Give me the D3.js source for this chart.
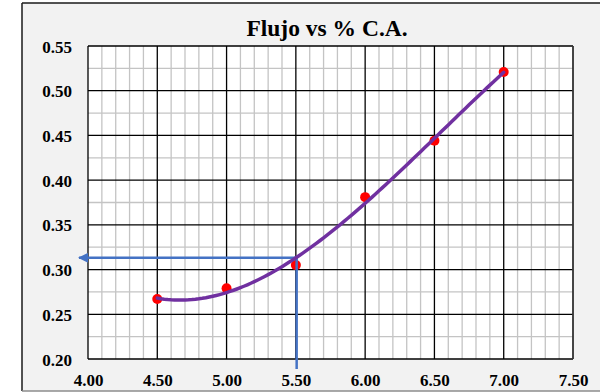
<!DOCTYPE html>
<html>
<head>
<meta charset="utf-8">
<script src="https://cdn.jsdelivr.net/npm/d3@7"></script>
<style>
  html, body { margin: 0; padding: 0; background: #ffffff; }
  svg { display: block; }
</style>
</head>
<body>
<svg id="chart" width="600" height="392"></svg>
<script>
// Measured flow for each % C.A.
const caPercent = [4.5, 5.0, 5.5, 6.0, 6.5, 7.0];
const flujo = [0.267, 0.279, 0.305, 0.381, 0.444, 0.521];

// Axis ticks
const xTicks = [4.0, 4.5, 5.0, 5.5, 6.0, 6.5, 7.0, 7.5];
const yTicks = [0.20, 0.25, 0.30, 0.35, 0.40, 0.45, 0.50, 0.55];

// Value
const readX = 5.5;

const title = "Flujo vs % C.A.";

const svg = d3.select("#chart");
const W = 600, H = 392;
const plot = { left: 88, top: 46, right: 573, bottom: 359 };

const x = d3.scaleLinear().domain([4.0, 7.5]).range([plot.left, plot.right]);
const y = d3.scaleLinear().domain([0.20, 0.55]).range([plot.bottom, plot.top]);

// Cubic least-squares trend line through the measurements
function polyFit(xs, ys, order) {
  const n = order + 1;
  const A = Array.from({ length: n }, () => new Array(n + 1).fill(0));
  xs.forEach((xv, k) => {
    for (let i = 0; i < n; i++) {
      for (let j = 0; j < n; j++) A[i][j] += Math.pow(xv, i + j);
      A[i][n] += ys[k] * Math.pow(xv, i);
    }
  });
  for (let c = 0; c < n; c++) {
    let p = c;
    for (let r = c + 1; r < n; r++) if (Math.abs(A[r][c]) > Math.abs(A[p][c])) p = r;
    [A[c], A[p]] = [A[p], A[c]];
    for (let r = 0; r < n; r++) {
      if (r === c) continue;
      const f = A[r][c] / A[c][c];
      for (let k = c; k <= n; k++) A[r][k] -= f * A[c][k];
    }
  }
  return A.map((row, i) => row[n] / row[i]);
}
const coef = polyFit(caPercent, flujo, 3);
const trend = xv => coef.reduce((s, c, i) => s + c * Math.pow(xv, i), 0);
const readY = trend(readX);

// Chart frame
svg.append("rect").attr("x", 0).attr("y", 0).attr("width", W).attr("height", H).attr("fill", "#ffffff");
svg.append("rect").attr("x", 22).attr("y", 3).attr("width", W).attr("height", 388)
  .attr("fill", "#F2F2F2");
svg.append("line").attr("x1", 22).attr("x2", W).attr("y1", 3).attr("y2", 3)
  .attr("stroke", "#1a1a1a").attr("stroke-width", 1.5);
svg.append("line").attr("x1", 22).attr("x2", 22).attr("y1", 3).attr("y2", 391)
  .attr("stroke", "#1a1a1a").attr("stroke-width", 1.5);
svg.append("line").attr("x1", 22).attr("x2", W).attr("y1", 391).attr("y2", 391)
  .attr("stroke", "#8c8c8c").attr("stroke-width", 1.5);

// Plot area
svg.append("rect").attr("x", plot.left).attr("y", plot.top)
  .attr("width", plot.right - plot.left).attr("height", plot.bottom - plot.top)
  .attr("fill", "#ffffff");

// Minor gridlines
const xMinor = d3.range(40, 76).map(v => v / 10).filter(v => Math.abs(v * 2 - Math.round(v * 2)) > 1e-6);
const yMinor = d3.range(0, 7).map(i => 0.225 + i * 0.05);
const grid = svg.append("g");
grid.selectAll(".xm").data(xMinor).join("line")
  .attr("x1", d => x(d)).attr("x2", d => x(d))
  .attr("y1", plot.top).attr("y2", plot.bottom)
  .attr("stroke", "#c4c4c4").attr("stroke-width", 1.3);
grid.selectAll(".ym").data(yMinor).join("line")
  .attr("x1", plot.left).attr("x2", plot.right)
  .attr("y1", d => y(d)).attr("y2", d => y(d))
  .attr("stroke", "#c4c4c4").attr("stroke-width", 1.3);

// Major gridlines
grid.selectAll(".xM").data(xTicks).join("line")
  .attr("x1", d => x(d)).attr("x2", d => x(d))
  .attr("y1", plot.top).attr("y2", plot.bottom)
  .attr("stroke", "#000").attr("stroke-width", 1.3);
grid.selectAll(".yM").data(yTicks).join("line")
  .attr("x1", plot.left).attr("x2", plot.right)
  .attr("y1", d => y(d)).attr("y2", d => y(d))
  .attr("stroke", "#000").attr("stroke-width", 1.3);
svg.append("line").attr("x1", plot.right).attr("x2", plot.right)
  .attr("y1", plot.top).attr("y2", plot.bottom).attr("stroke", "#404040").attr("stroke-width", 1.5);

// Axes (labels only)
const fontFam = "'Liberation Serif', 'Times New Roman', serif";
const xAxis = svg.append("g").attr("transform", `translate(0,${plot.bottom})`)
  .call(d3.axisBottom(x).tickValues(xTicks).tickFormat(d3.format(".2f")).tickSize(0).tickPadding(15));
const yAxis = svg.append("g").attr("transform", `translate(${plot.left},0)`)
  .call(d3.axisLeft(y).tickValues(yTicks).tickFormat(d3.format(".2f")).tickSize(0).tickPadding(16));
[xAxis, yAxis].forEach(g => {
  g.select(".domain").remove();
  g.selectAll("text").attr("font-family", fontFam).attr("font-weight", "bold")
    .attr("font-size", 17).attr("fill", "#000");
});
yAxis.selectAll("text").attr("dy", "0.36em");
xAxis.selectAll("text").attr("dy", "0.71em");

// Title
svg.append("text").attr("x", 327).attr("y", 36)
  .attr("text-anchor", "middle").attr("font-family", fontFam)
  .attr("font-weight", "bold").attr("font-size", 23.5).attr("fill", "#000")
  .text(title);

// Measured points
svg.append("g").selectAll("circle").data(caPercent).join("circle")
  .attr("cx", d => x(d)).attr("cy", (d, i) => y(flujo[i])).attr("r", 5)
  .attr("fill", "#ff0000");

// Reading guides
const blue = "#4472C4";
svg.append("defs").append("marker")
  .attr("id", "arrow").attr("viewBox", "0 0 10 10").attr("refX", 9).attr("refY", 5)
  .attr("markerWidth", 4).attr("markerHeight", 4).attr("orient", "auto")
  .append("path").attr("d", "M0,0 L10,5 L0,10 Z").attr("fill", blue);
svg.append("line")
  .attr("x1", x(readX) + 0.8).attr("x2", x(readX) + 0.8)
  .attr("y1", y(readY)).attr("y2", 369)
  .attr("stroke", blue).attr("stroke-width", 2.5);
svg.append("line")
  .attr("x1", x(readX) + 2).attr("x2", 79)
  .attr("y1", y(readY)).attr("y2", y(readY))
  .attr("stroke", blue).attr("stroke-width", 2.5)
  .attr("marker-end", "url(#arrow)");

// Trend line
const xs = d3.range(0, 101).map(i => caPercent[0] + (caPercent[caPercent.length - 1] - caPercent[0]) * i / 100);
svg.append("path")
  .datum(xs)
  .attr("d", d3.line().x(d => x(d)).y(d => y(trend(d))))
  .attr("fill", "none").attr("stroke", "#7030A0").attr("stroke-width", 3.5)
  .attr("stroke-linecap", "round");
</script>
</body>
</html>
